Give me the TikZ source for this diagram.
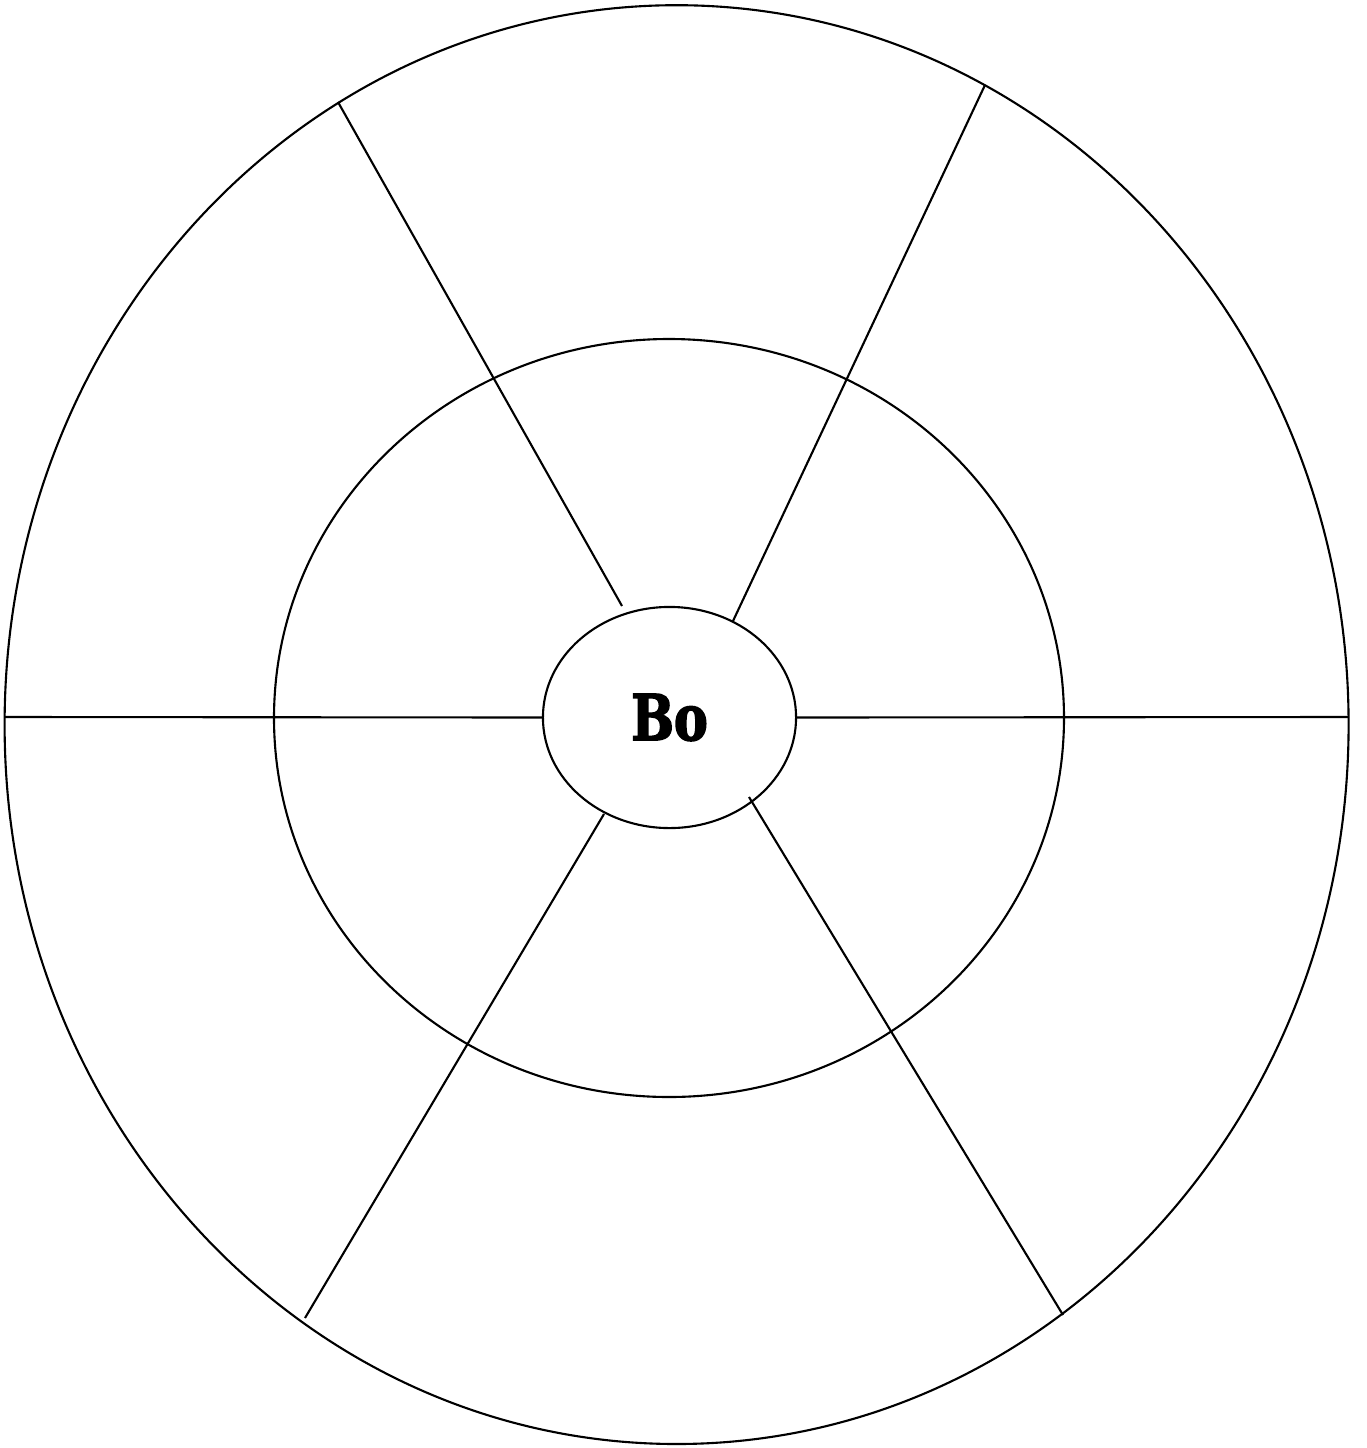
\documentclass[tikz,border=0pt]{standalone}
\usepackage{fontspec}
\usepackage{tikz}
\usetikzlibrary{shapes.geometric}
\newfontfamily\bofont{DejaVu Serif}[FakeStretch=0.8, BoldFeatures={FakeBold=2.5}]

\begin{document}
\begin{tikzpicture}[x=0.01cm, y=-0.01cm, line width=0.6pt,
    ring/.style={draw, black},
    hub/.style={ellipse, draw, black, inner sep=0pt, outer sep=0pt,
        minimum width=2.53cm, minimum height=2.21cm,
        font=\bofont\bfseries\fontsize{18}{20}\selectfont},
    spoke/.style={draw, black}]

\useasboundingbox (0,0) rectangle (1367,1448);

% ── RINGS ─────────────────────────────────────────────────────────
\draw[ring] (676.6,724.6) ellipse [x radius=672, y radius=719.4];
\draw[ring] (669,718) ellipse [x radius=395, y radius=379];

% ── CENTRE ────────────────────────────────────────────────────────
\node[hub] (bo) at (669.5,717.5) {\raisebox{-2.2pt}{Bo}};

% ── SPOKE ENDS ────────────────────────────────────────────────────
\coordinate (westend) at (4.6,717);
\coordinate (eastend) at (1348.7,717);
\coordinate (nwout) at (338,102);
\coordinate (nwin)  at (622,606);
\coordinate (neout) at (985,85);
\coordinate (nein)  at (733,621);
\coordinate (swout) at (305,1318);
\coordinate (swin)  at (604,814);
\coordinate (seout) at (1063,1315);
\coordinate (sein)  at (749,797);

% ── SPOKES ────────────────────────────────────────────────────────
\draw[spoke] (westend) -- (bo.west);
\draw[spoke] (bo.east) -- (eastend);
\draw[spoke] (nwout) -- (nwin);
\draw[spoke] (neout) -- (nein);
\draw[spoke] (swin) -- (swout);
\draw[spoke] (sein) -- (seout);

\end{tikzpicture}
\end{document}
